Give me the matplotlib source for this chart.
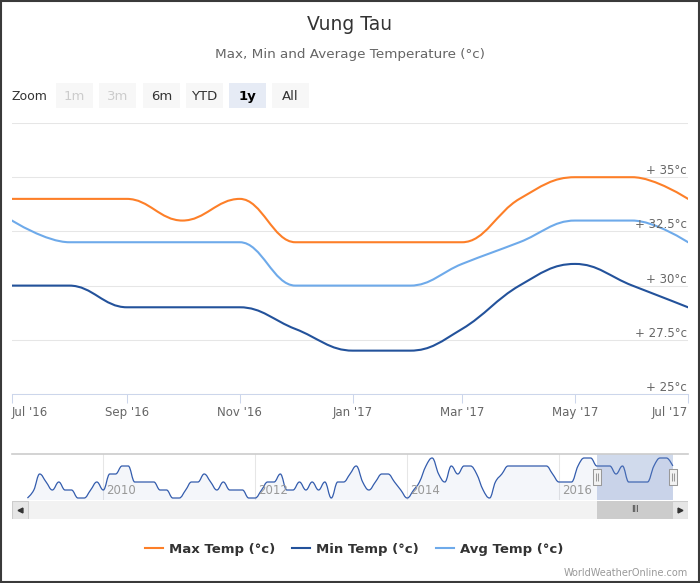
import matplotlib
matplotlib.use("Agg")
import matplotlib.pyplot as plt
import matplotlib.dates as mdates
import pandas as pd
from matplotlib.path import Path
from matplotlib.patches import PathPatch, Rectangle
from matplotlib.lines import Line2D
from matplotlib.transforms import blended_transform_factory

W, H = 700, 583

# monthly values, Jul 2016 .. Jul 2017 (1y view)
months = pd.date_range("2016-07-01", "2017-07-01", freq="MS")
max_temp = [34, 34, 34, 33, 34, 32, 32, 32, 32, 34, 35, 35, 34]
min_temp = [30, 30, 29, 29, 29, 28, 27, 27, 28, 30, 31, 30, 29]
avg_temp = [33, 32, 32, 32, 32, 30, 30, 30, 31, 32, 33, 33, 32]

# navigator series: monthly max temp, Jan 2009 .. Jul 2017
nav_months = pd.date_range("2009-01-01", "2017-07-01", freq="MS")
nav_max = [30, 31, 33, 32, 31, 32, 31, 31, 30, 30, 31, 32,
           31, 33, 33, 34, 34, 32, 32, 32, 32, 31, 31, 30,
           30, 31, 32, 32, 33, 32, 31, 32, 31, 31, 31, 30,
           30, 31, 32, 32, 33, 31, 31, 32, 31, 32, 31, 32,
           30, 32, 32, 33, 34, 32, 31, 32, 33, 33, 32, 31,
           30, 31, 32, 34, 35, 33, 32, 34, 33, 34, 34, 33,
           31, 30, 32, 33, 34, 34, 34, 34, 34, 34, 34, 33,
           32, 32, 32, 34, 35, 35, 34, 34, 34, 33, 34, 32,
           32, 32, 32, 34, 35, 35, 34]
nav_years = ["2010", "2012", "2014", "2016"]

series_names = ["Max Temp (°c)", "Min Temp (°c)", "Avg Temp (°c)"]
series_colors = ["#fd7f28", "#23529b", "#6eaaea"]
y_ticks = [25, 27.5, 30, 32.5, 35, 37.5]


def spline_path(xs, ys, base=None):
    # highcharts style spline (smoothing 1.5) as cubic bezier path
    n = len(xs)
    verts = [(xs[0], ys[0])]
    codes = [Path.MOVETO]
    right = [None] * n
    for i in range(1, n):
        px, py = xs[i], ys[i]
        lx, ly = xs[i - 1], ys[i - 1]
        lcx, lcy = px, py
        if i < n - 1:
            nx, ny = xs[i + 1], ys[i + 1]
            lcx = (1.5 * px + lx) / 2.5
            lcy = (1.5 * py + ly) / 2.5
            rcx = (1.5 * px + nx) / 2.5
            rcy = (1.5 * py + ny) / 2.5
            corr = (rcy - lcy) * (rcx - px) / (rcx - lcx) + py - rcy
            lcy += corr
            rcy += corr
            if lcy > ly and lcy > py:
                lcy = max(ly, py); rcy = 2 * py - lcy
            elif lcy < ly and lcy < py:
                lcy = min(ly, py); rcy = 2 * py - lcy
            if rcy > ny and rcy > py:
                rcy = max(ny, py); lcy = 2 * py - rcy
            elif rcy < ny and rcy < py:
                rcy = min(ny, py); lcy = 2 * py - rcy
            right[i] = (rcx, rcy)
        c1 = right[i - 1] if right[i - 1] is not None else (lx, ly)
        verts += [c1, (lcx, lcy), (px, py)]
        codes += [Path.CURVE4] * 3
    if base is not None:
        verts += [(xs[-1], base), (xs[0], base), (xs[0], base)]
        codes += [Path.LINETO, Path.LINETO, Path.CLOSEPOLY]
    return Path(verts, codes)


def px_rect(l, t, r, b):
    return [l / W, 1 - b / H, (r - l) / W, (b - t) / H]


fig = plt.figure(figsize=(W / 100, H / 100), dpi=100)

# ---- main chart
ax = fig.add_axes(px_rect(12, 123, 688, 394))
x_main = mdates.date2num(months)
for vals, c in zip([max_temp, min_temp, avg_temp], series_colors):
    ax.add_patch(PathPatch(spline_path(x_main, vals), fill=False, edgecolor=c,
                           lw=1.5, capstyle="round", joinstyle="round", zorder=3))
ax.set_xlim(mdates.date2num(pd.Timestamp("2016-07-01")), mdates.date2num(pd.Timestamp("2017-07-01")))
ax.set_ylim(25, 37.5)
ax.set_yticks(y_ticks)
ax.tick_params(axis="y", length=0, labelleft=False)
ax.grid(axis="y", color="#e6e6e6", lw=0.75)
ax.set_axisbelow(True)
for s in ["top", "left", "right"]:
    ax.spines[s].set_visible(False)
ax.spines["bottom"].set_color("#ccd6eb")
ax.spines["bottom"].set_linewidth(0.75)
ax.xaxis.set_major_locator(mdates.MonthLocator(bymonth=[1, 3, 5, 7, 9, 11]))
ax.xaxis.set_major_formatter(mdates.DateFormatter("%b '%y"))
ax.tick_params(axis="x", length=6.5, width=0.75, color="#ccd6eb", labelsize=8.5,
               labelcolor="#666666", pad=2)
fig.canvas.draw()
lbls = ax.get_xticklabels()
lbls[0].set_ha("left")
lbls[-1].set_ha("right")

ytrans = blended_transform_factory(ax.transAxes, ax.transData)
for v in y_ticks[:-1]:
    ax.annotate("+ %g°c" % v, xy=(1, v), xycoords=ytrans, xytext=(-1, 3),
                textcoords="offset pixels", ha="right", va="baseline",
                fontsize=8.5, color="#666666")

# ---- navigator
ax_nav = fig.add_axes(px_rect(12, 454, 688, 500))
x_nav = mdates.date2num(nav_months)
nav_lo, nav_hi = 29.75, 35.5
ax_nav.set_xlim(mdates.date2num(pd.Timestamp("2008-10-19")), mdates.date2num(pd.Timestamp("2017-09-12")))
ax_nav.set_ylim(nav_lo, nav_hi)
ax_nav.add_patch(PathPatch(spline_path(x_nav, nav_max, base=nav_lo), facecolor="#335cad",
                           alpha=0.05, edgecolor="none"))
ax_nav.add_patch(PathPatch(spline_path(x_nav, nav_max), fill=False, edgecolor="#335cad", lw=0.9))
ax_nav.axis("off")
for yr in nav_years:
    xd = mdates.date2num(pd.Timestamp(yr + "-01-01"))
    ax_nav.axvline(xd, color="#e6e6e6", lw=0.75, zorder=0)
    ax_nav.annotate(yr, xy=(xd, 0), xycoords=blended_transform_factory(ax_nav.transData, ax_nav.transAxes),
                    xytext=(3, 3), textcoords="offset pixels", ha="left", va="bottom",
                    fontsize=8.5, color="#999999")
ax_nav.axhline(nav_hi, color="#cccccc", lw=1.2, clip_on=False)
sel0, sel1 = ax.get_xlim()
ax_nav.axvspan(sel0, sel1, color="#6685c2", alpha=0.3, lw=0)
handle = Path([(-4, -8.5), (4, -8.5), (4, 8.5), (-4, 8.5), (-4, -8.5),
               (-1.5, -4.5), (-1.5, 4.5), (1.5, -4.5), (1.5, 4.5)],
              [Path.MOVETO, Path.LINETO, Path.LINETO, Path.LINETO, Path.CLOSEPOLY,
               Path.MOVETO, Path.LINETO, Path.MOVETO, Path.LINETO])
for xe in (sel0, sel1):
    ax_nav.plot([xe], [(nav_lo + nav_hi) / 2], marker=handle, ms=12.2, mfc="#f2f2f2",
                mec="#999999", mew=0.75, clip_on=False, zorder=5)

# ---- scrollbar
ax_sb = fig.add_axes(px_rect(12, 501, 688, 519))
ax_sb.set_xlim(ax_nav.get_xlim())
ax_sb.set_ylim(0, 1)
ax_sb.axis("off")
ax_sb.add_patch(Rectangle((0, 0), 1, 1, transform=ax_sb.transAxes, fc="#f2f2f2", ec="none"))
ax_sb.axvspan(sel0, sel1, color="#cccccc", lw=0)
ax_sb.text((sel0 + sel1) / 2, 0.5, "III", ha="center", va="center", fontsize=6, color="#333333")
bw = 16 / 676
for bx, mk in [(0, "<"), (1 - bw, ">")]:
    ax_sb.add_patch(Rectangle((bx, 0), bw, 1, transform=ax_sb.transAxes, fc="#e6e6e6",
                              ec="#cccccc", lw=0.75))
    ax_sb.plot([bx + bw / 2], [0.5], marker=mk, ms=3.5, color="#333333", transform=ax_sb.transAxes)

# ---- titles, range selector, legend, frame
ui = fig.add_axes([0, 0, 1, 1])
ui.set_xlim(0, W)
ui.set_ylim(H, 0)
ui.axis("off")
ui.patch.set_alpha(0)

ui.text(350, 30.5, "Vung Tau", ha="center", va="baseline", fontsize=13.5, color="#333333")
ui.text(350, 58, "Max, Min and Average Temperature (°c)", ha="center", va="baseline",
        fontsize=9.7, color="#666666")

ui.text(12, 100, "Zoom", ha="left", va="baseline", fontsize=9, color="#333333")
buttons = ["1m", "3m", "6m", "YTD", "1y", "All"]
btn_x = [56, 99, 143, 186, 229, 272]
for b, bx in zip(buttons, btn_x):
    fc, tc, fw = "#f7f7f7", "#333333", "normal"
    if b in ("1m", "3m"):
        tc = "#cccccc"
    if b == "1y":
        fc, tc, fw = "#e6ebf5", "#000000", "bold"
    ui.add_patch(Rectangle((bx, 83), 37, 25, fc=fc, ec="none"))
    ui.text(bx + 18.5, 100, b, ha="center", va="baseline", fontsize=9.5, color=tc, fontweight=fw)

handles = [Line2D([], [], color=c, lw=1.5) for c in series_colors]
fig.legend(handles, series_names, loc="center", bbox_to_anchor=(354 / W, 1 - 549 / H), ncol=3,
           frameon=False, prop={"weight": "bold", "size": 9.5}, labelcolor="#333333",
           handlelength=1.36, handletextpad=0.45, columnspacing=1.3)

ui.text(688, 576, "WorldWeatherOnline.com", ha="right", va="baseline", fontsize=7, color="#999999")

ui.add_patch(Rectangle((1, 1), W - 2, H - 2, fill=False, ec="#3a3a3a", lw=1.5, clip_on=False))

fig.savefig("out.png", dpi=100)
